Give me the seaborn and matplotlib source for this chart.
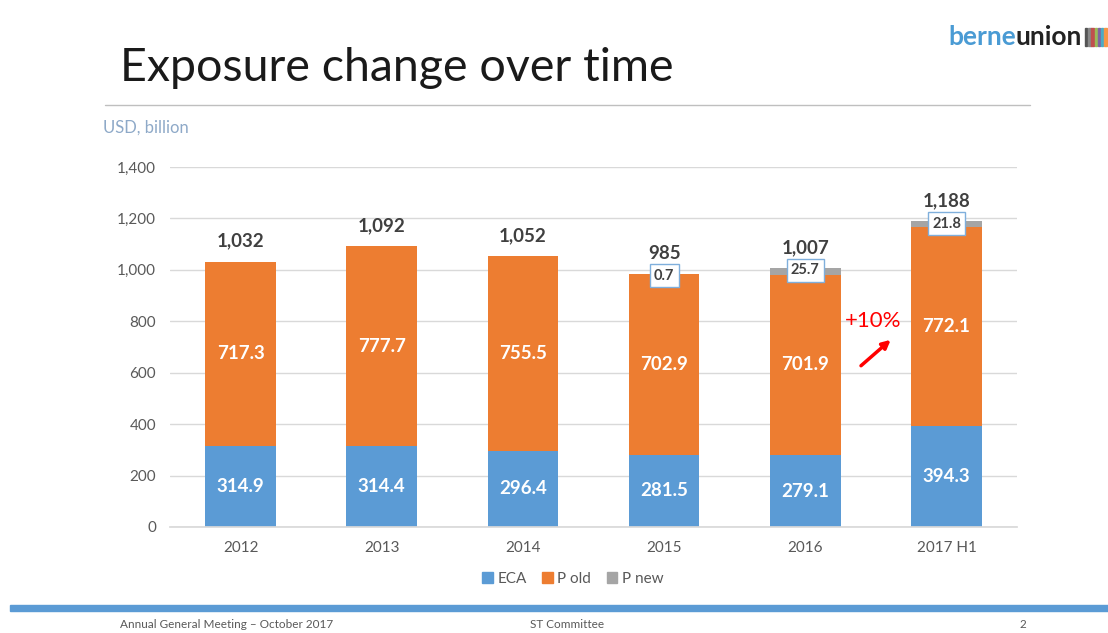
import matplotlib
matplotlib.use("Agg")
import matplotlib.pyplot as plt
import seaborn as sns
import pandas as pd
import numpy as np
from matplotlib.patches import Rectangle
from matplotlib.lines import Line2D

years = ["2012", "2013", "2014", "2015", "2016", "2017 H1"]
eca = [314.9, 314.4, 296.4, 281.5, 279.1, 394.3]
p_old = [717.3, 777.7, 755.5, 702.9, 701.9, 772.1]
p_new = [0.0, 0.0, 0.0, 0.7, 25.7, 21.8]
totals = [1032, 1092, 1052, 985, 1007, 1188]
y_ticks = [0, 200, 400, 600, 800, 1000, 1200, 1400]

C_ECA = "#5B9BD5"
C_OLD = "#ED7D31"
C_NEW = "#A5A5A5"

sns.set_theme(style="white")
plt.rcParams["font.family"] = ["Lato", "DejaVu Sans"]

df = pd.DataFrame({"year": years, "ECA": eca, "P old": p_old, "P new": p_new})
df["base_new"] = df["ECA"] + df["P old"]

fig = plt.figure(figsize=(11.08, 6.33), dpi=100)
ax = fig.add_axes([0.1534, 0.1675, 0.7645, 0.5687])

sns.barplot(data=df, x="year", y="ECA", color=C_ECA, width=0.5, ax=ax,
            saturation=1, label="ECA", linewidth=0)
sns.barplot(data=df, x="year", y="P old", color=C_OLD, width=0.5, ax=ax,
            saturation=1, bottom=df["ECA"], label="P old", linewidth=0)
sns.barplot(data=df, x="year", y="P new", color=C_NEW, width=0.5, ax=ax,
            saturation=1, bottom=df["base_new"], label="P new", linewidth=0)

ax.set_xlim(-0.5, len(years) - 0.5)
ax.set_ylim(0, 1400)
ax.set_yticks(y_ticks)
ax.set_yticklabels([f"{v:,}" for v in y_ticks])
ax.yaxis.grid(True, color="#D9D9D9", linewidth=1)
ax.set_axisbelow(True)
for s in ["top", "right", "left"]:
    ax.spines[s].set_visible(False)
ax.spines["bottom"].set_color("#D9D9D9")
ax.tick_params(axis="both", length=0, labelsize=11, colors="#595959", pad=10)
ax.set_xlabel("")
ax.set_ylabel("")
if ax.get_legend() is not None:
    ax.get_legend().remove()

for i in range(len(years)):
    ax.text(i, eca[i] / 2, f"{eca[i]:.1f}", ha="center", va="center",
            color="white", fontsize=13.5, fontweight="bold")
    ax.text(i, eca[i] + p_old[i] / 2, f"{p_old[i]:.1f}", ha="center",
            va="center", color="white", fontsize=13.5, fontweight="bold")
    ax.text(i, totals[i] + 80, f"{totals[i]:,}", ha="center", va="center",
            color="#404040", fontsize=13.5, fontweight="bold")
    if p_new[i] > 0:
        top = eca[i] + p_old[i] + p_new[i]
        ax.text(i, top - 8, f"{p_new[i]:.1f}", ha="center", va="center",
                color="#404040", fontsize=10.5, fontweight="bold",
                bbox=dict(boxstyle="square,pad=0.3", fc="white",
                          ec="#7FAFDC", lw=1))

# +10% annotation
ax.text(4.48, 800, "+10%", ha="center", va="center", color="#FF0000",
        fontsize=16)
ax.annotate("", xy=(4.62, 735), xytext=(4.38, 620),
            arrowprops=dict(arrowstyle="-|>", color="#FF0000", lw=2.5,
                            mutation_scale=12))

# legend
handles = [Rectangle((0, 0), 1, 1, color=c) for c in (C_ECA, C_OLD, C_NEW)]
fig.legend(handles, ["ECA", "P old", "P new"], loc="center",
           bbox_to_anchor=(0.517, 1 - 579 / 633), ncol=3, frameon=False,
           fontsize=11, handlelength=0.7, handleheight=0.7,
           handletextpad=0.3, columnspacing=1.0, labelcolor="#595959")

# title and decorations
fig.text(120 / 1108, 1 - 68 / 633, "Exposure change over time", ha="left",
         va="center", fontsize=33.5, color="#1a1a1a")
fig.add_artist(Line2D([105 / 1108, 1030 / 1108], [1 - 105 / 633] * 2,
                      color="#BFBFBF", lw=1))
fig.text(103 / 1108, 1 - 128 / 633, "USD, billion", ha="left", va="center",
         fontsize=12, color="#8EA9C8")

# logo
renderer = fig.canvas.get_renderer()
t_union = fig.text(1082 / 1108, 1 - 37 / 633, "union", ha="right",
                   va="center", fontsize=19, color="#222222",
                   fontweight="bold")
bb = t_union.get_window_extent(renderer=renderer)
fig.text(bb.x0 / fig.bbox.width, 1 - 37 / 633, "berne", ha="right",
         va="center", fontsize=19, color="#4A9BD4", fontweight="bold")
stripe_cols = ["#555555", "#888888", "#C0504D", "#9BBB59", "#8064A2", "#4BACC6", "#F79646"]
for k, c in enumerate(stripe_cols):
    fig.add_artist(Rectangle(((1085 + k * 3.2) / 1108, 1 - 46 / 633),
                             2.3 / 1108, 18 / 633, color=c,
                             transform=fig.transFigure))

# footer
fig.add_artist(Rectangle((10 / 1108, 1 - 611 / 633), 1098 / 1108, 6 / 633,
                         color="#5B9BD5", transform=fig.transFigure))
fy = 1 - 624 / 633
fig.text(120 / 1108, fy, "Annual General Meeting \u2013 October 2017",
         ha="left", va="center", fontsize=8.5, color="#595959")
fig.text(530 / 1108, fy, "ST Committee", ha="left", va="center",
         fontsize=8.5, color="#595959")
fig.text(1020 / 1108, fy, "2", ha="left", va="center",
         fontsize=8.5, color="#595959")

fig.savefig("out.png", dpi=100)
